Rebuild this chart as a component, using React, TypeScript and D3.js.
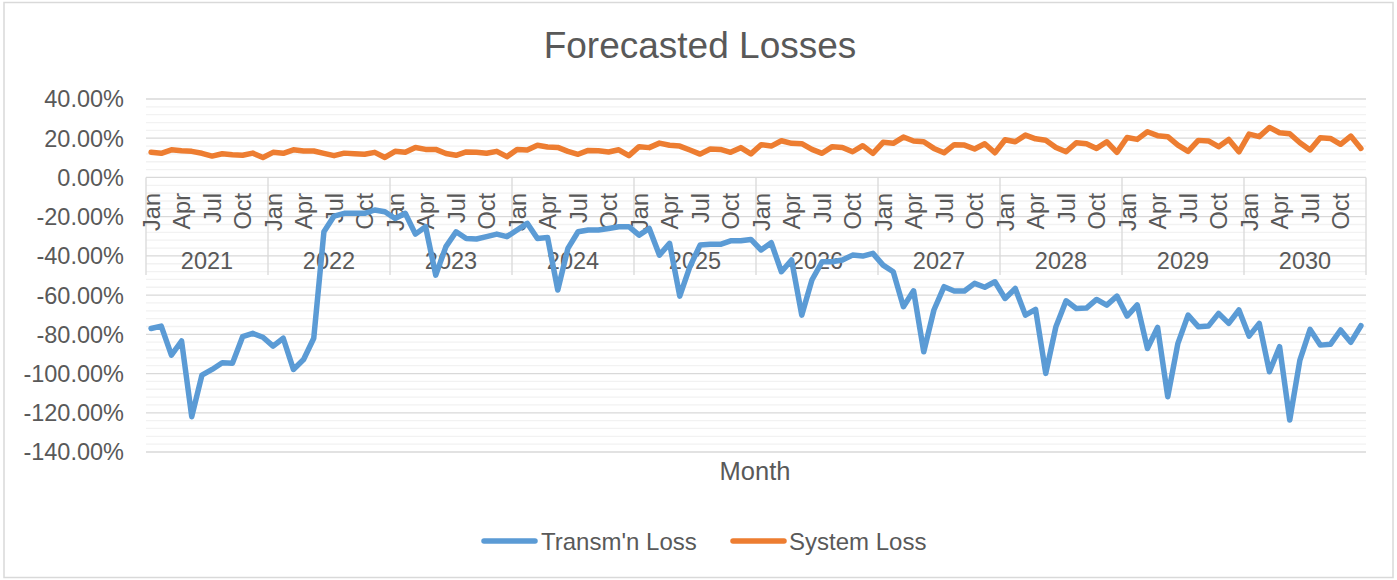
import React from 'react'
import * as d3 from 'd3'

// monthly values, Jan 2021 .. Dec 2030 (percent)
const years = ['2021', '2022', '2023', '2024', '2025', '2026', '2027', '2028', '2029', '2030']
const monthNames = ['Jan', 'Feb', 'Mar', 'Apr', 'May', 'Jun', 'Jul', 'Aug', 'Sep', 'Oct', 'Nov', 'Dec']
const shownMonths = ['Jan', 'Apr', 'Jul', 'Oct']

const transmLoss = [
  -77.0, -75.8, -90.6, -83.4, -122.0, -100.8, -97.9, -94.5, -94.8, -81.2, -79.5, -81.5,
  -86.0, -82.0, -97.9, -92.8, -82.0, -27.7, -19.7, -18.3, -18.3, -18.3, -16.6, -17.5,
  -20.9, -18.3, -28.9, -25.1, -49.8, -35.3, -27.7, -31.1, -31.4, -30.2, -28.9, -30.2,
  -26.8, -23.4, -31.1, -30.6, -57.4, -36.2, -27.7, -26.8, -26.8, -26.0, -25.1, -25.1,
  -29.4, -26.0, -39.6, -33.6, -60.5, -45.5, -34.5, -34.1, -34.1, -32.3, -32.3, -31.6,
  -37.0, -33.3, -48.1, -42.1, -70.2, -52.3, -43.0, -43.0, -42.1, -39.6, -40.1, -38.7,
  -44.7, -48.1, -65.9, -57.8, -88.9, -67.6, -55.7, -57.9, -57.9, -54.0, -56.0, -53.2,
  -61.7, -56.6, -70.2, -67.3, -99.9, -76.1, -62.9, -66.8, -66.6, -62.2, -65.1, -60.5,
  -70.7, -65.0, -87.2, -76.5, -111.8, -84.6, -70.2, -76.1, -75.8, -69.3, -74.4, -67.6,
  -80.9, -74.4, -99.1, -86.3, -123.7, -93.1, -77.5, -85.5, -85.1, -77.8, -84.1, -75.6
]

const systemLoss = [
  12.8, 12.3, 14.1, 13.6, 13.3, 12.3, 10.9, 12.1, 11.6, 11.3, 12.4, 10.2,
  12.8, 12.3, 14.1, 13.5, 13.5, 12.3, 11.1, 12.4, 12.1, 11.8, 12.8, 10.2,
  13.3, 12.8, 15.3, 14.3, 14.3, 12.2, 11.3, 13.0, 12.8, 12.3, 13.3, 10.6,
  14.3, 14.0, 16.4, 15.5, 15.3, 13.3, 11.8, 13.8, 13.6, 13.0, 14.1, 11.1,
  15.7, 15.2, 17.5, 16.4, 16.0, 14.0, 11.9, 14.5, 14.3, 12.8, 15.2, 12.0,
  16.7, 16.0, 18.7, 17.4, 17.2, 14.3, 12.3, 15.7, 15.3, 13.1, 16.2, 12.3,
  17.9, 17.4, 20.6, 18.6, 18.2, 14.8, 12.6, 16.7, 16.5, 14.5, 17.2, 12.6,
  19.2, 18.2, 21.6, 19.7, 19.0, 15.3, 13.1, 17.7, 17.2, 14.8, 18.2, 12.8,
  20.4, 19.4, 23.3, 21.3, 20.8, 16.5, 13.3, 18.9, 18.6, 15.7, 19.4, 13.1,
  22.1, 20.8, 25.5, 22.8, 22.3, 17.7, 14.0, 20.2, 19.9, 16.9, 21.1, 14.8
]

const yTicks = [40, 20, 0, -20, -40, -60, -80, -100, -120, -140]

const W = 1397
const H = 580
const FONT = '"Liberation Sans", Arial, sans-serif'
const TEXT = '#595959'

const series = [
  { name: "Transm'n Loss", values: transmLoss, color: '#5b9bd5' },
  { name: 'System Loss', values: systemLoss, color: '#ed7d31' }
]

export default function App () {
  const months = years.flatMap(yr => monthNames.map(m => ({ yr, m })))
  const x = d3.scaleBand<number>().domain(d3.range(months.length)).range([146, 1366])
  const y = d3.scaleLinear().domain([-140, 40]).range([452, 99])
  const cx = (i: number) => (x(i) as number) + x.bandwidth() / 2

  const line = d3.line<number>()
    .x((d, i) => cx(i))
    .y(d => y(d))

  const minor = d3.range(-140, 40.001, 4).filter(v => Math.abs(v % 20) > 0.001)
  const y0 = y(0)
  const catBottom = 275

  return (
    <svg width={W} height={H} style={{ position: 'absolute', left: 0, top: 0 }} fontFamily={FONT}>
      <rect x={0} y={0} width={W} height={H} fill='#fff' />
      <rect x={4} y={2.5} width={1389} height={575} fill='#fff' stroke='#d9d9d9' strokeWidth={1.5} />

      <text x={700} y={58} textAnchor='middle' fontSize={37} fill={TEXT}>Forecasted Losses</text>

      {minor.map(v => (
        <line key={'m' + v} x1={146} x2={1366} y1={y(v)} y2={y(v)} stroke='#f2f2f2' strokeWidth={1.3} />
      ))}
      {yTicks.map(v => (
        <line key={'g' + v} x1={146} x2={1366} y1={y(v)} y2={y(v)} stroke='#d9d9d9' strokeWidth={1.3} />
      ))}
      {yTicks.map(v => (
        <text key={'t' + v} x={124} y={y(v)} dy='0.36em' textAnchor='end' fontSize={23.5} fill={TEXT}>
          {v.toFixed(2) + '%'}
        </text>
      ))}

      {/* multi-level category axis */}
      {d3.range(0, months.length + 1, 12).map(i => {
        const xx = i < months.length ? (x(i) as number) : 1366
        return <line key={'s' + i} x1={xx} x2={xx} y1={y0} y2={catBottom} stroke='#d9d9d9' strokeWidth={1.3} />
      })}
      {months.map((d, i) => shownMonths.includes(d.m) ? (
        <text key={'l' + i} transform={`translate(${cx(i)},193) rotate(-90)`} dy='0.36em'
          textAnchor='end' fontSize={23.5} fill={TEXT}>{d.m}</text>
      ) : null)}
      {years.map((yr, k) => (
        <text key={yr} x={((x(k * 12) as number) + (x(k * 12 + 11) as number) + x.bandwidth()) / 2} y={269}
          textAnchor='middle' fontSize={23.5} fill={TEXT}>{yr}</text>
      ))}

      {series.map(s => (
        <path key={s.name} d={line(s.values) || ''} fill='none' stroke={s.color} strokeWidth={5.5}
          strokeLinejoin='round' strokeLinecap='round' />
      ))}

      <text x={755} y={480} textAnchor='middle' fontSize={25.5} fill={TEXT}>Month</text>

      <line x1={484} x2={535} y1={541} y2={541} stroke={series[0].color} strokeWidth={5.5} strokeLinecap='round' />
      <text x={541} y={549.5} fontSize={24} fill={TEXT}>{series[0].name}</text>
      <line x1={733} x2={784} y1={541} y2={541} stroke={series[1].color} strokeWidth={5.5} strokeLinecap='round' />
      <text x={789} y={549.5} fontSize={24} fill={TEXT}>{series[1].name}</text>
    </svg>
  )
}
